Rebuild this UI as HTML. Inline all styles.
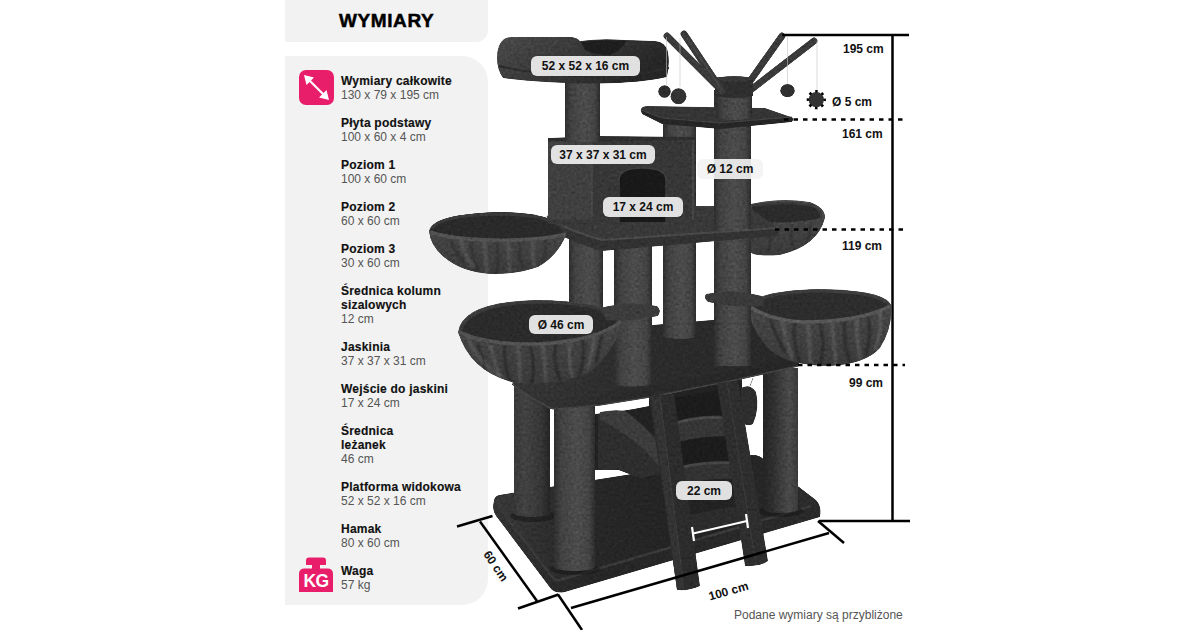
<!DOCTYPE html>
<html><head><meta charset="utf-8">
<style>
*{margin:0;padding:0;box-sizing:border-box}
html,body{width:1200px;height:630px;overflow:hidden;background:#fff}
body{position:relative;font-family:"Liberation Sans",sans-serif}
.tp{position:absolute;left:285px;top:-14px;width:203px;height:56px;background:#f2f2f2;border-radius:12px;border-top-left-radius:0;border-bottom-left-radius:1px}
.tt{position:absolute;left:339px;top:10px;font-size:19px;font-weight:bold;color:#000;letter-spacing:0.6px;white-space:nowrap;-webkit-text-stroke:0.5px #000}
.lp{position:absolute;left:285px;top:56px;width:203px;height:549px;background:#f2f2f2;border-radius:1px 26px 26px 1px}
.e{position:absolute;left:341px;font-size:12px;line-height:14px;white-space:nowrap}
.e b{display:block;color:#111;font-weight:bold;letter-spacing:0.22px;-webkit-text-stroke:0.15px #111}
.e span{display:block;color:#555}
.ic{position:absolute}
.lb{position:absolute;background:rgba(243,243,243,0.91);border-radius:6px;font-size:12px;font-weight:bold;color:#111;text-align:center;display:flex;align-items:center;justify-content:center;white-space:nowrap}
.dl{position:absolute;font-size:12px;font-weight:bold;color:#111;white-space:nowrap;line-height:14px}
.rot1{transform:rotate(-16deg);transform-origin:0 0}
.rot2{transform:rotate(56deg);transform-origin:0 0}
.note{position:absolute;left:734px;top:607.7px;font-size:12px;color:#555;white-space:nowrap;line-height:14px}
</style></head><body>



<div class="tp"></div>
<div class="tt">WYMIARY</div>
<div class="lp"></div>
<svg class="tree" width="1200" height="630" viewBox="0 0 1200 630" style="position:absolute;left:0;top:0">
<defs>
<linearGradient id="sis" x1="0" x2="1" y1="0" y2="0">
<stop offset="0" stop-color="#2e2e2e"/><stop offset="0.18" stop-color="#424242"/><stop offset="0.55" stop-color="#4c4c4c"/><stop offset="0.85" stop-color="#444"/><stop offset="1" stop-color="#2c2c2c"/>
</linearGradient>
<linearGradient id="sisR" x1="0" x2="1" y1="0" y2="0">
<stop offset="0" stop-color="#242424"/><stop offset="0.3" stop-color="#303030"/><stop offset="0.75" stop-color="#4a4a4a"/><stop offset="1" stop-color="#3a3a3a"/>
</linearGradient>
<linearGradient id="sisL" x1="0" x2="1" y1="0" y2="0">
<stop offset="0" stop-color="#383838"/><stop offset="0.3" stop-color="#424242"/><stop offset="0.75" stop-color="#363636"/><stop offset="1" stop-color="#242424"/>
</linearGradient>
<linearGradient id="bedg" x1="0" x2="1" y1="0" y2="0.4">
<stop offset="0" stop-color="#4a4a4a"/><stop offset="0.45" stop-color="#3a3a3a"/><stop offset="1" stop-color="#262626"/>
</linearGradient>
<linearGradient id="bodyg" x1="0" x2="0" y1="0" y2="1">
<stop offset="0" stop-color="#4a4a4a"/><stop offset="1" stop-color="#3a3a3a"/>
</linearGradient>
<linearGradient id="baseT" x1="0" x2="1" y1="0" y2="0">
<stop offset="0" stop-color="#383838"/><stop offset="0.25" stop-color="#282828"/><stop offset="0.7" stop-color="#222"/><stop offset="1" stop-color="#2c2c2c"/>
</linearGradient>
<linearGradient id="baseS" x1="0" x2="1" y1="0" y2="0">
<stop offset="0" stop-color="#333"/><stop offset="0.3" stop-color="#262626"/><stop offset="1" stop-color="#2a2a2a"/>
</linearGradient>
<clipPath id="cLL"><path d="M458,332 Q462,302 535,300 Q600,300 622,318 Q620,345 590,372 Q560,386 515,383 Q470,372 458,332Z"/></clipPath>
<clipPath id="cLR"><path d="M748,305 Q760,290 820,289 Q885,290 891,305 Q893,328 880,348 Q866,364 830,366 Q792,366 772,352 Q752,332 748,310Z"/></clipPath>
<clipPath id="cUL"><path d="M429,231 Q432,214 500,212 Q560,213 567,233 Q558,256 538,267 Q515,275 490,274 Q462,272 445,258 Q430,246 429,231Z"/></clipPath>
<clipPath id="cUR"><path d="M750,204 Q780,197 810,202 Q826,208 825,218 Q818,246 780,255 Q755,257 750,252Z"/></clipPath>
<linearGradient id="mainT" x1="0" x2="1" y1="0" y2="0">
<stop offset="0" stop-color="#363636"/><stop offset="0.4" stop-color="#2c2c2c"/><stop offset="1" stop-color="#282828"/>
</linearGradient>
<linearGradient id="mainF" x1="0" x2="1" y1="0" y2="0">
<stop offset="0" stop-color="#353535"/><stop offset="0.4" stop-color="#2a2a2a"/><stop offset="1" stop-color="#262626"/>
</linearGradient>
<filter id="soft" x="-10%" y="-10%" width="120%" height="120%"><feGaussianBlur stdDeviation="1.1"/></filter>
<filter id="tex" filterUnits="userSpaceOnUse" x="0" y="0" width="1200" height="630" color-interpolation-filters="sRGB">
<feTurbulence type="fractalNoise" baseFrequency="0.35" numOctaves="2" seed="4" result="t"/>
<feColorMatrix in="t" type="matrix" values="0.33 0.33 0.33 0 0  0.33 0.33 0.33 0 0  0.33 0.33 0.33 0 0  0 0 0 0 1" result="g"/>
<feComposite in="g" in2="SourceGraphic" operator="arithmetic" k1="0.8" k2="0" k3="0.6" k4="0" result="m"/>
<feComposite in="m" in2="SourceGraphic" operator="in"/>
</filter>
</defs>
<g filter="url(#tex)">
<!-- base platform -->
<path d="M499,495 L752,455 Q760,455 764,460 L816,500 Q822,506 820,517 L565,592 Q556,594 551,589 L496,516 Q493,512 493,506 L494,500 Q495,496 499,495 Z" fill="url(#baseS)"/>
<path d="M500,496 L752,455 Q760,455 764,460 L813,499 Q816,503 811,506 L560,580 Q555,581 552,577 L498,506 Q495,502 497,499 Q498,497 500,496 Z" fill="url(#baseT)"/>
<path d="M498,506 L552,577 Q555,581 560,580 L811,506" fill="none" stroke="#3a3a3a" stroke-width="2.5"/>
<ellipse cx="533" cy="516" rx="23" ry="6" fill="#151515" opacity="0.55"/>
<ellipse cx="575" cy="569" rx="25" ry="6" fill="#151515" opacity="0.55"/>
<ellipse cx="781" cy="511" rx="22" ry="6" fill="#151515" opacity="0.55"/>
<!-- hammock / back -->
<path d="M594,414 Q620,412 649,406 L742,386 L742,466 L700,470 L640,478 L619,470 L594,470Z" fill="#222"/>
<path d="M649,398 L742,378 L742,392 L649,410Z" fill="#222"/>
<path d="M598,414 Q612,410 625,412 Q650,430 690,468 L640,478 L619,470 L598,470Z" fill="#2e2e2e"/>
<path d="M600,412 Q615,409 625,411 Q650,428 672,462 L660,468 Q640,440 600,420Z" fill="#3c3c3c"/>
<path d="M741,388 Q750,383 756,392 Q760,408 753,424 Q746,428 741,420 Z" fill="#2e2e2e"/>
<path d="M750,386 L753,378" stroke="#777" stroke-width="0.8"/>
<!-- lower posts -->
<rect x="514" y="382" width="36" height="132" fill="url(#sisL)"/>
<ellipse cx="532" cy="513" rx="18" ry="4" fill="url(#sisL)"/>
<rect x="763" y="368" width="35" height="142" fill="url(#sisR)"/>
<ellipse cx="780.5" cy="509" rx="17.5" ry="4" fill="url(#sisR)"/>
<rect x="554" y="402" width="41" height="166" fill="url(#sis)"/>
<ellipse cx="574.5" cy="567" rx="20.5" ry="4" fill="url(#sis)"/>
<!-- main platform -->
<path d="M512,383 Q560,350 640,326 L760,316 Q800,350 800,358 L798,366 L740,379 L650,397 L600,405 L556,409 Q549,409 545,405Z" fill="url(#mainT)"/>
<path d="M512,383 L548,399 L600,395 L650,387 L740,369 L800,356 L798,366 L740,379 L650,397 L600,405 L556,409 Q549,409 545,405Z" fill="url(#mainF)"/>
<path d="M512,384 Q530,398 545,405 Q549,409 556,409 L600,405 L650,397 L740,379 L798,366" fill="none" stroke="#444" stroke-width="1.5"/>
<!-- posts above main platform -->
<rect x="569" y="230" width="34" height="110" fill="url(#sis)"/>
<rect x="614" y="245" width="38" height="139" fill="url(#sis)"/>
<ellipse cx="633" cy="383" rx="19" ry="3.5" fill="url(#sis)"/>
<rect x="663" y="115" width="33" height="222" fill="url(#sis)"/>
<ellipse cx="679.5" cy="336" rx="16.5" ry="3" fill="url(#sis)"/>
<!-- ladder -->
<path d="M662,400 L730,388 L738,470 L680,478 L670,440Z" fill="#1c1c1c"/>
<path d="M674,422 Q700,414 726,416 Q732,426 728,436 Q700,436 678,442 Q672,432 674,422Z" fill="#363636"/>
<path d="M676,423 Q700,416 725,418" fill="none" stroke="#4a4a4a" stroke-width="2.5"/>
<path d="M680,466 Q708,460 734,461 Q739,470 735,479 Q708,478 684,484 Q678,475 680,466Z" fill="#333"/>
<path d="M682,467 Q708,462 733,463" fill="none" stroke="#464646" stroke-width="2.5"/>
<path d="M688,516 Q716,508 742,506 L745,522 Q716,525 690,534Z" fill="#2c2c2c"/>
<path d="M649,396 L674,394 L700,586 Q690,591 677,590Z" fill="#2c2c2c"/>
<path d="M651,397 L660,396 L684,589 L677,590Z" fill="#333"/>
<path d="M660,396 L684,589" stroke="#3e3e3e" stroke-width="1"/>
<path d="M717,383 L738,381 L768,561 Q760,567 745,566Z" fill="#2e2e2e"/>
<path d="M727,382 L756,565" stroke="#3c3c3c" stroke-width="1"/>
<!-- lower left basket -->
<path d="M458,332 Q462,302 535,300 Q600,300 622,318 Q620,345 590,372 Q560,386 515,383 Q470,372 458,332Z" fill="url(#bodyg)"/>
<path d="M460,330 Q470,303 535,301 Q600,301 620,320 Q600,338 540,343 Q485,343 460,330Z" fill="#2b2b2b"/>
<path d="M461,329 Q470,304 535,302 Q600,302 619,319" fill="none" stroke="#3a3a3a" stroke-width="3"/>
<g clip-path="url(#cLL)"><g filter="url(#soft)" fill="none" stroke-linecap="round">
<g stroke="rgba(0,0,0,0.35)" stroke-width="2.6">
<path d="M478,345 Q482,360 490,377"/><path d="M505,347 Q503,362 510,380"/><path d="M530,346 Q536,362 532,383"/><path d="M556,344 Q552,360 560,380"/><path d="M582,338 Q586,352 580,374"/><path d="M603,330 Q600,345 596,362"/>
</g>
<g stroke="rgba(255,255,255,0.10)" stroke-width="3.5">
<path d="M490,346 Q494,362 500,378"/><path d="M518,347 Q520,362 520,382"/><path d="M543,345 Q545,362 546,382"/><path d="M570,341 Q568,358 572,376"/><path d="M594,334 Q594,350 588,368"/>
<path d="M468,338 Q476,360 500,376"/>
</g></g></g>
<path d="M459,332 Q485,345 540,344 Q600,340 621,321" fill="none" stroke="#525252" stroke-width="3.5"/>
<path d="M600,308 Q630,300 657,306 Q662,310 658,316 Q630,322 606,320 Z" fill="#3c3c3c"/>
<!-- lower right basket -->
<path d="M748,305 Q760,290 820,289 Q885,290 891,305 Q893,328 880,348 Q866,364 830,366 Q792,366 772,352 Q752,332 748,310Z" fill="url(#bodyg)"/>
<path d="M750,305 Q768,291 820,290 Q880,291 890,305 Q860,322 802,322 Q765,318 750,305Z" fill="#2d2d2d"/>
<path d="M751,304 Q768,292 820,291 Q880,292 889,305" fill="none" stroke="#3c3c3c" stroke-width="3"/>
<g clip-path="url(#cLR)"><g filter="url(#soft)" fill="none" stroke-linecap="round">
<g stroke="rgba(0,0,0,0.35)" stroke-width="2.6">
<path d="M770,318 Q775,335 785,352"/><path d="M795,323 Q792,342 800,362"/><path d="M820,323 Q826,342 820,365"/><path d="M845,322 Q842,340 850,362"/><path d="M868,316 Q872,333 866,355"/>
</g>
<g stroke="rgba(255,255,255,0.11)" stroke-width="3.5">
<path d="M782,321 Q786,340 792,358"/><path d="M808,323 Q810,342 810,364"/><path d="M832,323 Q834,342 836,364"/><path d="M857,320 Q856,338 860,358"/><path d="M880,312 Q882,328 876,348"/>
</g></g></g>
<path d="M749,306 Q770,320 802,322 Q860,322 890,306" fill="none" stroke="#585858" stroke-width="3.5"/>
<!-- right upper basket -->
<path d="M750,204 Q780,197 810,202 Q826,208 825,218 Q818,246 780,255 Q755,257 750,252Z" fill="url(#bodyg)"/>
<path d="M752,205 Q790,200 815,206 Q823,212 821,219 Q790,226 752,222Z" fill="#2b2b2b"/>
<path d="M752,206 Q790,200 814,206 Q822,211 821,218" fill="none" stroke="#3a3a3a" stroke-width="2.5"/>
<g clip-path="url(#cUR)"><g filter="url(#soft)" fill="none" stroke-linecap="round">
<g stroke="rgba(0,0,0,0.25)" stroke-width="2">
<path d="M770,224 Q772,238 768,252"/><path d="M792,224 Q789,238 795,250"/><path d="M810,220 Q812,232 806,244"/>
</g></g></g>
<path d="M752,222 Q790,226 821,219" fill="none" stroke="#464646" stroke-width="2"/>
<!-- middle platform top -->
<path d="M547,216 L695,214 L695,206 L748,206 L777,228 L602,240 Q560,228 547,216Z" fill="#393939"/>
<!-- center post D -->
<rect x="714" y="90" width="37" height="276" fill="url(#sis)"/>
<path d="M706,294 Q730,288 762,296 L764,306 Q735,308 708,302 Q703,298 706,294Z" fill="#3a3a3a"/>
<!-- middle platform front -->
<path d="M547,216 Q560,228 602,240 L777,228 Q779,233 776,236 L602,251 Q565,240 548,228Z" fill="#323232"/>
<path d="M547,216 Q560,228 602,240 L777,228" fill="none" stroke="#4a4a4a" stroke-width="2"/>
<!-- left upper basket -->
<path d="M429,231 Q432,214 500,212 Q560,213 567,233 Q558,256 538,267 Q515,275 490,274 Q462,272 445,258 Q430,246 429,231Z" fill="url(#bodyg)"/>
<path d="M430,231 Q436,214 500,212 Q560,213 566,233 Q540,240 490,239 Q445,238 430,231Z" fill="#2a2a2a"/>
<path d="M432,229 Q438,215 500,214 Q558,215 565,232" fill="none" stroke="#3a3a3a" stroke-width="3"/>
<g clip-path="url(#cUL)"><g filter="url(#soft)" fill="none" stroke-linecap="round">
<g stroke="rgba(0,0,0,0.28)" stroke-width="2">
<path d="M450,240 Q455,252 465,264"/><path d="M472,242 Q470,256 478,270"/><path d="M496,242 Q500,258 496,274"/><path d="M520,242 Q517,256 524,268"/><path d="M545,238 Q548,250 542,262"/>
</g>
<g stroke="rgba(255,255,255,0.10)" stroke-width="3.5">
<path d="M461,241 Q464,254 472,266"/><path d="M484,242 Q486,258 487,272"/><path d="M508,242 Q509,258 510,272"/><path d="M533,240 Q532,254 534,266"/>
</g></g></g>
<path d="M430,232 Q450,239 490,240 Q540,241 566,234" fill="none" stroke="#525252" stroke-width="3.5"/>
<!-- cave -->
<rect x="548" y="138" width="44" height="82" fill="#404040"/>
<rect x="592" y="138" width="103" height="82" fill="#373737"/>
<path d="M548,220 L695,218 L695,222 L548,224Z" fill="#383838"/>
<path d="M548,141 L592,141 L695,140 L695,137 L600,136 L548,138Z" fill="#2e2e2e"/>
<path d="M592,142 L592,220" stroke="#484848" stroke-width="1.5"/>
<path d="M693,140 L693,220" stroke="#444" stroke-width="2"/>
<path d="M619,222 L619,180 Q619,168 642,168 Q666,168 666,180 L666,222Z" fill="#191919"/>
<path d="M619,222 L619,180 Q619,168 642,168 Q666,168 666,180 L666,222" fill="none" stroke="#3e3e3e" stroke-width="1.5"/>
<!-- top post + bed -->
<rect x="565" y="80" width="35" height="62" fill="url(#sis)"/>
<path d="M512,37 L572,37 Q578,38 580,41 Q600,38 626,40 L655,41 Q666,42 668,52 Q670,64 667,77 Q640,83 600,83.5 Q540,83 503,78 Q497,70 497,58 Q497,44 504,39 Q507,37 512,37 Z" fill="url(#bedg)"/>
<path d="M581,42 Q600,39 626,41 Q622,50 610,55 Q595,55 585,50 Z" fill="#1e1e1e"/>
<path d="M499,66 Q540,76 600,77 Q640,76 669,68" fill="none" stroke="#2c2c2c" stroke-width="2"/>
<!-- sticks -->
<g stroke="#3a3a3a" stroke-width="7" stroke-linecap="round">
<line x1="782" y1="36" x2="748" y2="84"/>
<line x1="814" y1="41" x2="748" y2="92"/>
</g>
<circle cx="664.5" cy="91.5" r="6.3" fill="#2e2e2e"/>
<circle cx="678.5" cy="96.3" r="8" fill="#333"/>
<ellipse cx="787.5" cy="90.7" rx="7.3" ry="6.6" fill="#303030"/>
<!-- small platform -->
<path d="M641,109 Q642,106 648,106 L765,108 L791,117 Q794,119 792,121 L720,128 L662,122 L642,113 Q640,111 641,109Z" fill="#353535"/>
<path d="M641,110 L662,118 L720,123 L792,117 Q794,119 792,122 L720,129 L662,124 L642,114Z" fill="#262626"/>
<path d="M641,110 L662,118 L720,123 L792,117" fill="none" stroke="#444" stroke-width="1"/>
<!-- center post top -->
<rect x="716" y="95" width="36" height="23" fill="url(#sis)"/>
<ellipse cx="734" cy="117" rx="18" ry="3" fill="url(#sis)"/>
<path d="M715,80 Q715,77 720,77 L748,77 Q753,77 753,80 L753,96 Q734,100 715,96Z" fill="#2e2e2e"/>
<ellipse cx="734" cy="79" rx="18.5" ry="3" fill="#383838"/>
<g stroke="#3a3a3a" stroke-width="7" stroke-linecap="round">
<line x1="667" y1="36" x2="717" y2="86"/>
<line x1="684" y1="34" x2="722" y2="91"/>
</g>
<path d="M687,38 L722,90" stroke="#464646" stroke-width="1.5"/>
</g>
<g stroke="#c4c4c4" stroke-width="0.6">
<line x1="666.5" y1="37" x2="666.5" y2="86"/>
<line x1="680" y1="38" x2="680" y2="87"/>
<line x1="787.5" y1="37" x2="787.5" y2="84"/>
<line x1="817" y1="41" x2="817" y2="92"/>
</g>
</svg>





<svg class="ic" style="left:299px;top:70px" width="35" height="35" viewBox="0 0 35 35">
<rect x="0" y="0" width="35" height="35" rx="7" fill="#e91e6b"/>
<line x1="8" y1="8" x2="27" y2="27" stroke="#fff" stroke-width="2.2"/>
<path d="M5,5 L15,7.5 L7.5,15Z" fill="#fff"/>
<path d="M30,30 L20,27.5 L27.5,20Z" fill="#fff"/>
</svg>
<svg class="ic" style="left:299px;top:557px" width="34" height="36" viewBox="0 0 34 36">
<path d="M7,3.5 Q7,0.5 10,0.5 L24,0.5 Q27,0.5 27,3.5 L27,8 L21,8 L21,11.5 L28.5,11.5 Q34,11.5 34,17 L34,35 L0,35 L0,17 Q0,11.5 5.5,11.5 L13,11.5 L13,8 L7,8Z" fill="#e91e6b"/>
<text x="17" y="30" font-family="Liberation Sans" font-weight="bold" font-size="17.5" fill="#fff" text-anchor="middle" letter-spacing="-0.5">KG</text>
</svg>
<div class="e" style="top:74px"><b>Wymiary całkowite</b><span>130 x 79 x 195 cm</span></div>
<div class="e" style="top:116px"><b>Płyta podstawy</b><span>100 x 60 x 4 cm</span></div>
<div class="e" style="top:158px"><b>Poziom 1</b><span>100 x 60 cm</span></div>
<div class="e" style="top:200px"><b>Poziom 2</b><span>60 x 60 cm</span></div>
<div class="e" style="top:242px"><b>Poziom 3</b><span>30 x 60 cm</span></div>
<div class="e" style="top:284px"><b>Średnica kolumn<br>sizalowych</b><span>12 cm</span></div>
<div class="e" style="top:340px"><b>Jaskinia</b><span>37 x 37 x 31 cm</span></div>
<div class="e" style="top:382px"><b>Wejście do jaskini</b><span>17 x 24 cm</span></div>
<div class="e" style="top:424px"><b>Średnica<br>leżanek</b><span>46 cm</span></div>
<div class="e" style="top:480px"><b>Platforma widokowa</b><span>52 x 52 x 16 cm</span></div>
<div class="e" style="top:522px"><b>Hamak</b><span>80 x 60 cm</span></div>
<div class="e" style="top:564px"><b>Waga</b><span>57 kg</span></div>
<svg class="dims" width="1200" height="630" viewBox="0 0 1200 630" style="position:absolute;left:0;top:0">
<g stroke="#000" stroke-width="2.5" fill="none">
<line x1="782" y1="35" x2="909" y2="35"/>
<line x1="892.5" y1="35" x2="892.5" y2="521"/>
<line x1="819" y1="521" x2="910" y2="521"/>
<line x1="818" y1="521" x2="844" y2="543"/>
<line x1="571" y1="608" x2="829" y2="533"/>
<line x1="558" y1="594.5" x2="582" y2="630"/>
<line x1="518" y1="608.5" x2="558.5" y2="594.5"/>
<line x1="480" y1="521.5" x2="537" y2="601"/>
<line x1="457" y1="526.5" x2="492.5" y2="516"/>
</g>
<g stroke="#000" stroke-width="2.5" stroke-dasharray="4.5 5">
<line x1="784" y1="119.4" x2="905" y2="119.4"/>
<line x1="775" y1="229.6" x2="905" y2="229.6"/>
<line x1="798" y1="365" x2="905" y2="365"/>
</g>
<circle cx="816.3" cy="99.7" r="7.6" fill="#333"/>
<circle cx="816.3" cy="99.7" r="8.4" fill="none" stroke="#000" stroke-width="2.4" stroke-dasharray="2.6 3.98" stroke-dashoffset="1.3"/>
<g stroke="#fff" stroke-width="2.2">
<line x1="693" y1="533.5" x2="747" y2="521"/>
<line x1="692" y1="527" x2="694" y2="541"/>
<line x1="746" y1="514" x2="748" y2="528"/>
</g>
</svg>
<div class="lb" style="left:531px;top:56px;width:109px;height:20px">52 x 52 x 16 cm</div>
<div class="lb" style="left:551px;top:145px;width:104px;height:19px">37 x 37 x 31 cm</div>
<div class="lb" style="left:697px;top:159px;width:66px;height:20px">Ø 12 cm</div>
<div class="lb" style="left:603px;top:197px;width:80px;height:20px">17 x 24 cm</div>
<div class="lb" style="left:529px;top:315px;width:64px;height:19px">Ø 46 cm</div>
<div class="lb" style="left:676px;top:481px;width:56px;height:19px">22 cm</div>
<div class="dl" style="left:843px;top:42px">195 cm</div>
<div class="dl" style="left:832px;top:94.5px">Ø 5 cm</div>
<div class="dl" style="left:842px;top:127px">161 cm</div>
<div class="dl" style="left:842px;top:239px">119 cm</div>
<div class="dl" style="left:849px;top:376px">99 cm</div>
<div class="dl rot1" style="left:707px;top:590px">100 cm</div>
<div class="dl rot2" style="left:492px;top:547.5px">60 cm</div>
<div class="note">Podane wymiary są przybliżone</div>
</body></html>
